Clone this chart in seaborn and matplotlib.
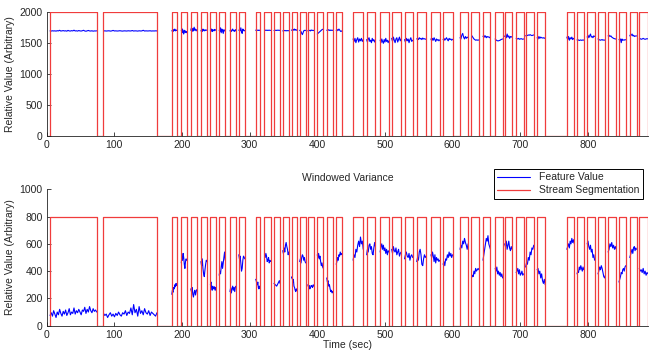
import matplotlib
matplotlib.use("Agg")
import matplotlib.pyplot as plt
from matplotlib.lines import Line2D
import numpy as np
import pandas as pd
import seaborn as sns

# segment boundaries (sec)
seg_start = [5, 84, 185, 199, 213, 228, 242, 255, 271, 284, 309, 322, 336, 349, 362,
             374, 386, 400, 414, 428, 453, 473, 493, 510, 529, 547, 568, 586, 611,
             628, 645, 663, 677, 694, 708, 725, 769, 784, 799, 815, 830, 846, 862, 876]
seg_end = [74, 163, 193, 207, 222, 237, 250, 264, 280, 293, 316, 331, 345, 358, 370,
           383, 395, 409, 423, 437, 468, 486, 506, 524, 541, 561, 581, 600, 623,
           639, 656, 674, 688, 705, 720, 737, 780, 794, 810, 826, 842, 856, 872, 889]

# raw feature value in each segment
feature_vals = [
    [1690, 1688, 1692, 1689, 1691, 1687, 1693, 1690, 1700, 1688, 1691, 1695, 1689, 1692,
     1686, 1698, 1690, 1688, 1694, 1690, 1702, 1689, 1692, 1687, 1696, 1690, 1688, 1693,
     1700, 1689, 1685, 1691, 1697, 1690, 1688, 1692, 1686, 1690, 1689, 1691],
    [1689, 1691, 1688, 1690, 1692, 1687, 1690, 1698, 1689, 1691, 1688, 1690, 1693, 1689,
     1687, 1691, 1690, 1688, 1692, 1690, 1689, 1696, 1688, 1691, 1690, 1687, 1692, 1689,
     1690, 1700, 1688, 1691, 1689, 1690, 1692, 1688, 1690, 1689, 1691, 1690],
    [1690, 1700, 1680, 1710, 1695, 1720, 1690, 1705, 1700, 1695],
    [1700, 1660, 1720, 1680, 1640, 1700, 1670, 1690, 1660, 1680],
    [1700, 1740, 1680, 1730, 1690, 1750, 1700, 1720, 1690, 1710],
    [1690, 1710, 1680, 1720, 1700, 1690, 1710, 1695, 1705, 1700],
    [1700, 1690, 1720, 1680, 1710, 1700, 1690, 1715, 1700, 1705],
    [1700, 1680, 1740, 1660, 1720, 1690, 1650, 1710, 1690, 1700],
    [1690, 1710, 1680, 1700, 1720, 1690, 1700, 1680, 1710, 1700],
    [1700, 1710, 1690, 1740, 1680, 1650, 1720, 1700, 1690, 1700],
    [1700, 1705, 1698, 1702, 1700, 1697, 1703, 1700, 1698, 1701],
    [1700, 1698, 1703, 1700, 1697, 1702, 1699, 1701, 1700, 1698],
    [1695, 1700, 1698, 1702, 1697, 1700, 1703, 1699, 1700, 1698],
    [1690, 1695, 1692, 1698, 1694, 1690, 1696, 1693, 1695, 1692],
    [1700, 1710, 1705, 1715, 1700, 1720, 1705, 1710, 1700, 1705],
    [1700, 1690, 1680, 1650, 1630, 1660, 1690, 1700, 1695, 1700],
    [1690, 1700, 1695, 1700, 1690, 1705, 1698, 1700, 1695, 1700],
    [1640, 1650, 1660, 1670, 1680, 1690, 1700, 1710, 1715, 1720],
    [1700, 1705, 1700, 1710, 1700, 1695, 1705, 1700, 1698, 1702],
    [1700, 1690, 1710, 1700, 1720, 1705, 1690, 1680, 1690, 1685],
    [1560, 1520, 1570, 1500, 1550, 1580, 1510, 1560, 1530, 1570, 1520, 1550],
    [1550, 1510, 1560, 1580, 1520, 1540, 1500, 1570, 1530, 1550, 1510, 1540],
    [1540, 1500, 1560, 1520, 1490, 1550, 1510, 1570, 1520, 1540, 1500, 1530],
    [1570, 1520, 1590, 1540, 1500, 1560, 1580, 1510, 1550, 1590, 1530, 1560],
    [1550, 1510, 1570, 1530, 1560, 1500, 1550, 1580, 1520, 1540],
    [1560, 1570, 1550, 1580, 1560, 1570, 1550, 1575, 1560, 1565, 1555, 1560],
    [1560, 1530, 1570, 1540, 1580, 1550, 1520, 1560, 1540, 1550, 1530, 1545],
    [1550, 1570, 1540, 1560, 1580, 1550, 1530, 1570, 1550, 1560, 1540, 1555],
    [1580, 1560, 1620, 1650, 1590, 1560, 1600, 1570, 1590, 1580],
    [1620, 1600, 1580, 1560, 1550, 1540, 1545, 1540, 1545, 1540],
    [1600, 1620, 1590, 1610, 1580, 1600, 1590, 1595, 1580, 1590],
    [1560, 1545, 1535, 1530, 1530, 1535, 1540, 1550, 1555, 1560],
    [1600, 1620, 1580, 1640, 1590, 1610, 1570, 1600, 1590, 1600],
    [1570, 1565, 1560, 1570, 1555, 1560, 1565, 1560, 1555, 1560],
    [1610, 1620, 1615, 1625, 1620, 1630, 1620, 1615, 1620, 1625],
    [1580, 1560, 1600, 1570, 1590, 1580, 1575, 1580, 1570, 1580],
    [1590, 1550, 1600, 1540, 1580, 1560, 1590, 1550, 1570, 1560],
    [1545, 1540, 1545, 1535, 1540, 1545, 1538, 1540, 1545, 1540],
    [1590, 1620, 1580, 1610, 1640, 1590, 1600, 1580, 1610, 1600],
    [1560, 1550, 1545, 1540, 1545, 1550, 1540, 1545, 1540, 1545],
    [1610, 1620, 1600, 1610, 1590, 1580, 1570, 1565, 1560, 1560],
    [1550, 1545, 1560, 1500, 1560, 1540, 1545, 1540, 1550, 1545],
    [1610, 1630, 1620, 1640, 1610, 1620, 1600, 1610, 1605, 1610],
    [1560, 1565, 1555, 1560, 1570, 1560, 1555, 1560, 1565, 1560],
]

# windowed variance in each segment
variance_vals = [
    [75, 95, 70, 110, 85, 60, 100, 80, 120, 90, 70, 105, 85, 115, 75, 95, 125, 80, 100, 90,
     130, 85, 110, 95, 120, 100, 80, 115, 105, 135, 90, 120, 100, 140, 110, 95, 125, 105, 115, 100],
    [90, 75, 85, 60, 80, 95, 70, 85, 65, 90, 75, 100, 80, 70, 95, 85, 110, 75, 100, 90,
     130, 80, 155, 95, 120, 70, 140, 90, 110, 80, 125, 95, 85, 110, 75, 100, 90, 80, 70, 95],
    [230, 260, 245, 280, 270, 300, 285, 310, 295, 305],
    [460, 510, 480, 530, 500, 450, 420, 470, 490, 480],
    [270, 250, 280, 230, 210, 245, 260, 225, 250, 265],
    [470, 440, 490, 420, 380, 360, 410, 450, 480, 470],
    [300, 320, 280, 260, 290, 270, 275, 285, 260, 280],
    [370, 400, 380, 430, 470, 420, 460, 500, 540, 480],
    [250, 280, 240, 270, 290, 260, 280, 250, 285, 290],
    [520, 490, 510, 460, 400, 420, 480, 510, 500, 490],
    [340, 330, 310, 300, 320, 280, 270, 290, 275, 280],
    [520, 500, 530, 510, 470, 480, 500, 460, 480, 470],
    [310, 305, 300, 295, 290, 300, 310, 320, 330, 310],
    [550, 530, 570, 540, 590, 610, 580, 560, 520, 540],
    [350, 360, 320, 340, 290, 280, 260, 250, 270, 260],
    [470, 490, 460, 500, 520, 510, 480, 500, 470, 460],
    [300, 285, 295, 270, 280, 295, 290, 280, 300, 290],
    [520, 500, 530, 490, 510, 470, 440, 460, 430, 420],
    [350, 320, 330, 290, 300, 270, 250, 260, 240, 250],
    [450, 470, 500, 480, 520, 510, 540, 520, 530, 520],
    [480, 520, 500, 560, 540, 590, 620, 580, 650, 600, 620, 560],
    [520, 560, 540, 590, 600, 560, 580, 530, 520, 570, 610, 580],
    [540, 580, 600, 560, 590, 550, 570, 530, 560, 520, 550, 540],
    [560, 530, 580, 550, 540, 570, 520, 540, 560, 510, 530, 540],
    [490, 520, 540, 510, 500, 530, 480, 510, 520, 500],
    [470, 500, 480, 540, 560, 520, 450, 440, 490, 520, 500, 510],
    [520, 500, 540, 510, 470, 520, 460, 500, 480, 490, 470, 480],
    [450, 470, 440, 490, 480, 520, 500, 540, 510, 530, 500, 520],
    [560, 590, 570, 620, 600, 640, 610, 590, 560, 600],
    [350, 370, 360, 400, 380, 420, 400, 410, 420, 410],
    [480, 520, 560, 600, 640, 620, 660, 600, 580, 560],
    [420, 400, 430, 380, 400, 370, 390, 360, 380, 350],
    [600, 580, 620, 560, 590, 620, 570, 550, 580, 560],
    [390, 400, 420, 380, 410, 370, 380, 400, 370, 380],
    [430, 460, 450, 500, 480, 540, 520, 570, 560, 590],
    [410, 420, 380, 400, 350, 380, 330, 310, 340, 300],
    [560, 580, 600, 570, 620, 600, 640, 610, 630, 600],
    [380, 400, 390, 430, 410, 440, 420, 400, 430, 410],
    [600, 620, 580, 560, 590, 540, 560, 500, 520, 480],
    [380, 400, 430, 410, 440, 420, 390, 360, 350, 370],
    [540, 560, 600, 580, 610, 570, 590, 560, 580, 560],
    [320, 340, 360, 390, 380, 410, 420, 400, 430, 440],
    [500, 520, 540, 560, 530, 570, 580, 550, 570, 560],
    [420, 400, 410, 390, 420, 380, 400, 370, 390, 380],
]

x_max = 889


def seg_frame(vals):
    rows = []
    for i, v in enumerate(vals):
        t = np.linspace(seg_start[i], seg_end[i], len(v))
        for tt, vv in zip(t, v):
            rows.append((i, tt, vv))
    return pd.DataFrame(rows, columns=["seg", "t", "v"])


def step_frame(height):
    xs, ys = [0], [0]
    for s, e in zip(seg_start, seg_end):
        xs += [s, s, e, e]
        ys += [0, height, height, 0]
    return pd.DataFrame({"t": xs, "v": ys})


sns.set_style("ticks")
plt.rcParams["font.family"] = ["Liberation Sans", "DejaVu Sans"]
plt.rcParams["font.size"] = 7.5

fig = plt.figure(figsize=(6.5, 3.51), dpi=100)
ax1 = fig.add_axes([0.0718, 0.6134, 0.9252, 0.3533])
ax2 = fig.add_axes([0.0718, 0.0721, 0.9252, 0.3886])

blue = "#0000ff"
red = "#f03c3c"

for ax, vals, h, ylim, yt in [(ax1, feature_vals, 2000, 2000, 500),
                              (ax2, variance_vals, 800, 1000, 200)]:
    sns.lineplot(data=seg_frame(vals), x="t", y="v", units="seg", estimator=None,
                 color=blue, lw=0.8, ax=ax)
    sns.lineplot(data=step_frame(h), x="t", y="v", sort=False, estimator=None,
                 color=red, lw=0.9, ax=ax)
    ax.set_xlim(0, x_max)
    ax.set_ylim(0, ylim)
    ax.set_yticks(np.arange(0, ylim + 1, yt))
    ax.set_xticks(np.arange(0, 801, 100))
    ax.tick_params(direction="in", length=3, width=0.6, labelsize=7.5, pad=3)
    ax.set_ylabel("Relative Value (Arbitrary)", fontsize=7.5, labelpad=3)
    ax.set_xlabel("")
    for sp in ["top", "right"]:
        ax.spines[sp].set_visible(False)
    for sp in ["left", "bottom"]:
        ax.spines[sp].set_linewidth(0.6)
        ax.spines[sp].set_color("#222222")

ax2.set_title("Windowed Variance", fontsize=7.5, pad=6)
ax2.set_xlabel("Time (sec)", fontsize=7.5, labelpad=0)

handles = [Line2D([], [], color=blue, lw=0.8), Line2D([], [], color=red, lw=0.9)]
leg = ax2.legend(handles, ["Feature Value", "Stream Segmentation"], loc="upper right",
                 bbox_to_anchor=(1.0, 1.19), fontsize=7.5, fancybox=False,
                 framealpha=1, edgecolor="black", handlelength=3.2, borderpad=0.35,
                 labelspacing=0.3)
leg.get_frame().set_linewidth(0.7)

fig.savefig("out.png", dpi=100)
